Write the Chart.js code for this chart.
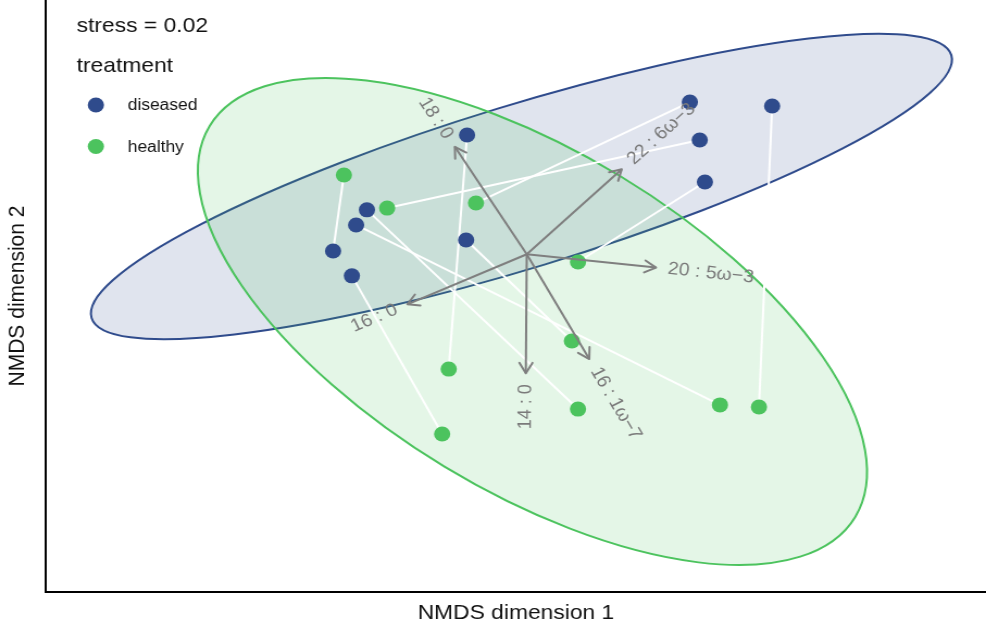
<!DOCTYPE html>
<html><head><meta charset="utf-8">
<script src="https://cdn.jsdelivr.net/npm/chart.js@4"></script>
<style>
html,body{margin:0;padding:0;background:#fff;overflow:hidden;}
#wrap{width:986px;height:627px;overflow:hidden;position:relative;}
#c{display:block;transform-origin:0 0;transform:scaleX(1.0871);}
</style></head><body>
<div id="wrap"><canvas id="c" width="907" height="627" style="width:907px;height:627px"></canvas></div>
<script>
// ---- data (NMDS scores) ----
const treatments = ['diseased', 'healthy'];
const diseasedX = [0.370, 0.545, -0.104, 0.391, 0.402, -0.317, -0.340, -0.106, -0.389, -0.349];
const diseasedY = [0.655, 0.642, 0.544, 0.527, 0.385, 0.291, 0.240, 0.189, 0.152, 0.068];
// healthy samples, in the same order as their paired diseased samples
const healthyX = [-0.085, 0.517, -0.143, -0.274, 0.132, 0.132, 0.434, 0.119, -0.366, -0.157];
const healthyY = [0.314, -0.375, -0.247, 0.297, 0.115, -0.382, -0.368, -0.152, 0.409, -0.466];
// fatty-acid vectors
const vectorLabels = ['18 : 0', '22 : 6\u03c9\u22123', '20 : 5\u03c9\u22123', '16 : 0', '14 : 0', '16 : 1\u03c9\u22127'];
const vectorOrigin = [0.023, 0.141];
const vectorEndX = [-0.130, 0.225, 0.298, -0.231, 0.021, 0.156];
const vectorEndY = [0.504, 0.428, 0.096, -0.028, -0.261, -0.213];
// 95% ellipses: centre and two conjugate semi-axis vectors
const diseasedEllipseCenter = [0.0117, 0.3699];
const diseasedEllipseAxisA = [0.9145, 0.4439];
const diseasedEllipseAxisB = [0.0506, -0.2630];
const healthyEllipseCenter = [0.0351, -0.0861];
const healthyEllipseAxisA = [0.6867, -0.6603];
const healthyEllipseAxisB = [-0.1872, -0.4906];
const stressValue = 0.02;

// ---- styles ----
const BLUE = '#2f4b8c', GREEN = '#4cc35e';
const ellipses = [
  {c: diseasedEllipseCenter, a: diseasedEllipseAxisA, b: diseasedEllipseAxisB, fill: 'rgba(45,75,140,0.15)', stroke: BLUE},
  {c: healthyEllipseCenter, a: healthyEllipseAxisA, b: healthyEllipseAxisB, fill: 'rgba(76,195,95,0.15)', stroke: GREEN}
];
const FONT = "'Liberation Sans', Arial, sans-serif";

const pairSets = diseasedX.map((x, i) => ({
  data: [{x: x, y: diseasedY[i]}, {x: healthyX[i], y: healthyY[i]}],
  showLine: true, borderColor: '#ffffff', borderWidth: 2, pointRadius: 0, order: 10
}));
const arrowSets = vectorEndX.map((x, i) => ({
  data: [{x: vectorOrigin[0], y: vectorOrigin[1]}, {x: x, y: vectorEndY[i]}],
  showLine: true, borderColor: '#7f7f7f', borderWidth: 2, pointRadius: 0, order: 1
}));
const pointSets = [
  {label: treatments[0], data: diseasedX.map((x, i) => ({x: x, y: diseasedY[i]})), backgroundColor: BLUE, borderWidth: 0, pointRadius: 7.5, order: 3},
  {label: treatments[1], data: healthyX.map((x, i) => ({x: x, y: healthyY[i]})), backgroundColor: GREEN, borderWidth: 0, pointRadius: 7.5, order: 3}
];

const overlay = {
  id: 'overlay',
  beforeDatasetsDraw(chart) {
    const {ctx, chartArea: ca} = chart;
    const sx = chart.scales.x, sy = chart.scales.y;
    ctx.save();
    ctx.beginPath(); ctx.rect(ca.left, ca.top, ca.right - ca.left, ca.bottom - ca.top); ctx.clip();
    ellipses.forEach(e => {
      const cx = sx.getPixelForValue(e.c[0]), cy = sy.getPixelForValue(e.c[1]);
      const ax = sx.getPixelForValue(e.c[0] + e.a[0]) - cx, ay = sy.getPixelForValue(e.c[1] + e.a[1]) - cy;
      const bx = sx.getPixelForValue(e.c[0] + e.b[0]) - cx, by = sy.getPixelForValue(e.c[1] + e.b[1]) - cy;
      ctx.save();
      ctx.beginPath();
      ctx.transform(ax, ay, bx, by, cx, cy);
      ctx.arc(0, 0, 1, 0, Math.PI * 2);
      ctx.closePath();
      ctx.restore();
      ctx.fillStyle = e.fill; ctx.fill();
      ctx.lineWidth = 2; ctx.strokeStyle = e.stroke; ctx.stroke();
    });
    ctx.restore();
  },
  afterDatasetsDraw(chart) {
    const {ctx} = chart;
    const sx = chart.scales.x, sy = chart.scales.y;
    const ox = sx.getPixelForValue(vectorOrigin[0]), oy = sy.getPixelForValue(vectorOrigin[1]);
    ctx.save();
    vectorEndX.forEach((vx, i) => {
      const tx = sx.getPixelForValue(vx), ty = sy.getPixelForValue(vectorEndY[i]);
      const th = Math.atan2(ty - oy, tx - ox);
      // arrow head (open)
      const L = 12, A = Math.PI / 6;
      ctx.strokeStyle = '#7f7f7f'; ctx.lineWidth = 2; ctx.lineCap = 'round'; ctx.lineJoin = 'round';
      ctx.beginPath();
      ctx.moveTo(tx - L * Math.cos(th - A), ty - L * Math.sin(th - A));
      ctx.lineTo(tx, ty);
      ctx.lineTo(tx - L * Math.cos(th + A), ty - L * Math.sin(th + A));
      ctx.stroke();
      // label
      const gap = 11;
      const lx = tx + gap * Math.cos(th), ly = ty + gap * Math.sin(th);
      ctx.save();
      ctx.translate(lx, ly);
      let rot = th, align = 'left';
      if (Math.cos(th) < 0) { rot = th + Math.PI; align = 'right'; }
      ctx.rotate(rot);
      ctx.font = '18px ' + FONT;
      ctx.fillStyle = '#7a7a7a';
      ctx.textAlign = align; ctx.textBaseline = 'middle';
      ctx.fillText(vectorLabels[i], 0, 0);
      ctx.restore();
    });
    // stress + legend
    const lx0 = 70.5;
    ctx.fillStyle = '#111';
    ctx.textAlign = 'left'; ctx.textBaseline = 'alphabetic';
    ctx.font = '21px ' + FONT;
    ctx.fillText('stress = ' + stressValue.toFixed(2), lx0, 32);
    ctx.fillText('treatment', lx0, 72);
    const ly = [105, 146.5];
    const lc = [BLUE, GREEN];
    treatments.forEach((t, i) => {
      ctx.fillStyle = lc[i];
      ctx.beginPath(); ctx.arc(88.2, ly[i], 7.5, 0, Math.PI * 2); ctx.fill();
      ctx.fillStyle = '#111';
      ctx.font = '16px ' + FONT;
      ctx.textBaseline = 'middle';
      ctx.fillText(t, 117.5, ly[i] + 1);
    });
    ctx.restore();
  }
};

new Chart(document.getElementById('c'), {
  type: 'scatter',
  data: {datasets: [...pairSets, ...pointSets, ...arrowSets]},
  options: {
    responsive: false, devicePixelRatio: 1, animation: false,
    layout: {padding: 0, autoPadding: false},
    plugins: {legend: {display: false}, tooltip: {enabled: false}},
    scales: {
      x: {type: 'linear', min: -1, max: 1,
          ticks: {display: false}, grid: {display: false, drawTicks: false},
          border: {display: true, color: '#000', width: 2},
          title: {display: true, text: 'NMDS dimension 1', color: '#111', font: {family: FONT, size: 21}, padding: {top: 8.8, bottom: 1}}},
      y: {type: 'linear', min: -1, max: 1,
          ticks: {display: false}, grid: {display: false, drawTicks: false},
          border: {display: true, color: '#000', width: 2},
          title: {display: true, text: 'NMDS dimension 2', color: '#111', font: {family: FONT, size: 21}, padding: {top: 4, bottom: 13}}}
    }
  },
  plugins: [overlay]
});
</script>
</body></html>
